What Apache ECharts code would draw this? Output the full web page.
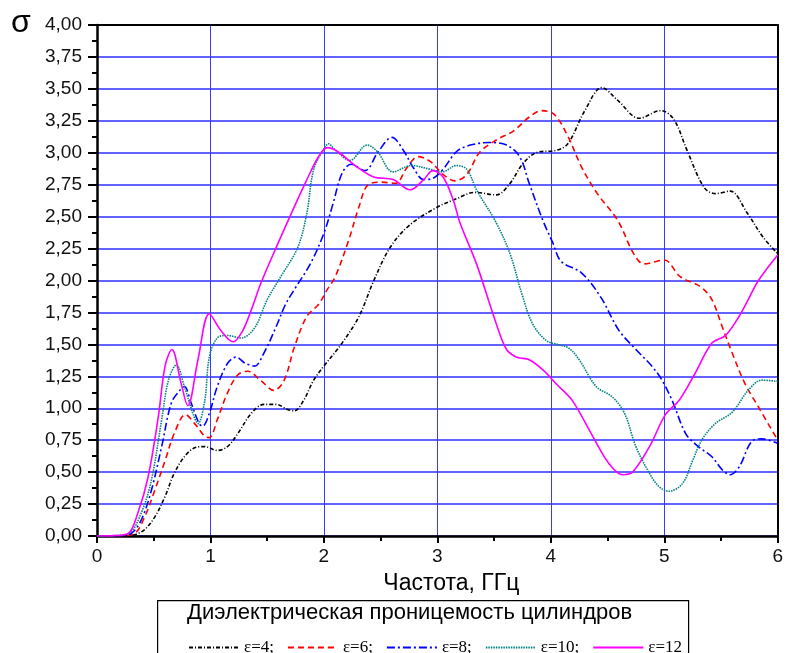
<!DOCTYPE html>
<html>
<head>
<meta charset="utf-8">
<script src="https://cdn.jsdelivr.net/npm/echarts@6/dist/echarts.min.js"></script>
<style>
  html, body { margin: 0; padding: 0; background: #fff; }
  #chart { width: 786px; height: 653px; }
</style>
</head>
<body>
<div id="chart"></div>
<script>
// Frequency (GHz) and sigma for each cylinder permittivity
const e4X = [0, 0.25, 0.33, 0.42, 0.51, 0.60, 0.68, 0.77, 0.86, 0.95, 1.06, 1.15, 1.24, 1.36, 1.47, 1.58, 1.68, 1.74, 1.82, 1.91, 2.0, 2.16, 2.31, 2.44, 2.585, 2.75, 2.99, 3.17, 3.33, 3.52, 3.64, 3.75, 3.87, 4.05, 4.15, 4.30, 4.45, 4.59, 4.78, 4.97, 5.085, 5.20, 5.35, 5.45, 5.58, 5.73, 5.87, 6.0];
const e4Y = [0, 0.002, 0.01, 0.05, 0.15, 0.31, 0.49, 0.62, 0.69, 0.70, 0.67, 0.70, 0.80, 0.96, 1.03, 1.03, 0.99, 0.98, 1.06, 1.22, 1.33, 1.51, 1.72, 2.0, 2.26, 2.43, 2.57, 2.64, 2.69, 2.67, 2.76, 2.91, 3.0, 3.02, 3.07, 3.33, 3.51, 3.41, 3.27, 3.33, 3.26, 3.02, 2.73, 2.68, 2.70, 2.53, 2.34, 2.21];

const e6X = [0, 0.2, 0.33, 0.42, 0.51, 0.60, 0.68, 0.78, 0.87, 0.95, 0.99, 1.06, 1.15, 1.24, 1.33, 1.44, 1.56, 1.65, 1.74, 1.85, 1.95, 2.03, 2.10, 2.22, 2.31, 2.39, 2.51, 2.63, 2.73, 2.83, 2.94, 3.05, 3.155, 3.26, 3.37, 3.52, 3.67, 3.81, 3.92, 4.03, 4.15, 4.27, 4.41, 4.59, 4.73, 4.82, 5.0, 5.14, 5.32, 5.42, 5.51, 5.60, 5.71, 5.83, 6.0];
const e6Y = [0, 0.002, 0.02, 0.15, 0.36, 0.59, 0.80, 0.95, 0.87, 0.78, 0.77, 0.91, 1.12, 1.26, 1.29, 1.22, 1.14, 1.22, 1.48, 1.72, 1.81, 1.93, 2.03, 2.32, 2.58, 2.75, 2.77, 2.76, 2.88, 2.97, 2.93, 2.83, 2.78, 2.83, 3.0, 3.10, 3.17, 3.28, 3.33, 3.30, 3.13, 2.89, 2.68, 2.47, 2.21, 2.13, 2.16, 2.03, 1.95, 1.85, 1.64, 1.43, 1.195, 1.01, 0.75];

const e8X = [0, 0.18, 0.30, 0.39, 0.48, 0.57, 0.655, 0.73, 0.77, 0.83, 0.90, 0.93, 0.99, 1.06, 1.15, 1.225, 1.31, 1.39, 1.47, 1.58, 1.66, 1.74, 1.88, 2.0, 2.08, 2.16, 2.24, 2.36, 2.48, 2.60, 2.70, 2.79, 2.88, 2.96, 3.05, 3.17, 3.29, 3.46, 3.61, 3.725, 3.81, 3.93, 4.02, 4.09, 4.27, 4.44, 4.60, 4.75, 4.89, 4.98, 5.07, 5.19, 5.30, 5.42, 5.51, 5.58, 5.66, 5.77, 5.86, 6.0];
const e8Y = [0, 0.002, 0.02, 0.125, 0.36, 0.70, 1.04, 1.14, 1.17, 1.04, 0.88, 0.86, 0.96, 1.17, 1.35, 1.40, 1.35, 1.33, 1.43, 1.64, 1.81, 1.93, 2.13, 2.37, 2.60, 2.84, 2.91, 2.86, 3.01, 3.12, 3.02, 2.88, 2.79, 2.80, 2.87, 3.01, 3.06, 3.08, 3.06, 2.97, 2.76, 2.47, 2.29, 2.15, 2.06, 1.87, 1.61, 1.46, 1.33, 1.22, 1.06, 0.80, 0.70, 0.62, 0.52, 0.48, 0.54, 0.74, 0.76, 0.725];

const e10X = [0, 0.15, 0.28, 0.39, 0.48, 0.57, 0.63, 0.70, 0.77, 0.845, 0.89, 0.95, 0.99, 1.06, 1.15, 1.27, 1.39, 1.50, 1.62, 1.77, 1.85, 1.91, 2.0, 2.04, 2.09, 2.23, 2.38, 2.47, 2.61, 2.77, 2.94, 3.04, 3.17, 3.26, 3.345, 3.52, 3.64, 3.75, 3.84, 3.96, 4.06, 4.16, 4.25, 4.40, 4.54, 4.65, 4.75, 4.87, 4.95, 5.04, 5.16, 5.25, 5.33, 5.45, 5.60, 5.74, 5.86, 6.0];
const e10Y = [0, 0.003, 0.02, 0.18, 0.44, 0.91, 1.22, 1.34, 1.17, 0.96, 0.88, 1.06, 1.40, 1.55, 1.57, 1.55, 1.63, 1.85, 2.03, 2.26, 2.53, 2.87, 3.03, 3.07, 3.03, 2.94, 3.06, 3.01, 2.85, 2.90, 2.87, 2.85, 2.90, 2.87, 2.71, 2.45, 2.21, 1.88, 1.66, 1.53, 1.50, 1.47, 1.38, 1.17, 1.09, 0.96, 0.70, 0.49, 0.39, 0.35, 0.41, 0.59, 0.75, 0.88, 0.97, 1.14, 1.22, 1.21];

const e12X = [0, 0.15, 0.275, 0.36, 0.45, 0.54, 0.60, 0.66, 0.74, 0.80, 0.89, 0.99, 1.09, 1.20, 1.28, 1.36, 1.445, 1.60, 1.71, 1.85, 1.96, 2.03, 2.12, 2.29, 2.44, 2.61, 2.76, 2.88, 2.96, 3.05, 3.14, 3.20, 3.345, 3.52, 3.61, 3.70, 3.81, 3.93, 4.06, 4.19, 4.37, 4.51, 4.63, 4.72, 4.87, 5.01, 5.13, 5.27, 5.42, 5.54, 5.66, 5.74, 5.83, 6.0];
const e12Y = [0, 0.003, 0.02, 0.18, 0.46, 0.93, 1.33, 1.46, 1.20, 1.02, 1.38, 1.74, 1.61, 1.52, 1.60, 1.77, 1.98, 2.30, 2.52, 2.79, 2.98, 3.04, 3.01, 2.89, 2.81, 2.79, 2.71, 2.79, 2.86, 2.81, 2.63, 2.45, 2.13, 1.66, 1.46, 1.40, 1.38, 1.30, 1.18, 1.06, 0.78, 0.57, 0.48, 0.50, 0.70, 0.95, 1.06, 1.27, 1.51, 1.57, 1.72, 1.85, 2.0, 2.20];

const seriesNames = ['ε=4', 'ε=6', 'ε=8', 'ε=10', 'ε=12'];
const xTicks = [0, 1, 2, 3, 4, 5, 6];
const legendTitle = 'Диэлектрическая проницемость цилиндров';
const xTitle = 'Частота, ГГц';
const yTitle = 'σ';

const pairs = (xs, ys) => xs.map((x, i) => [x, ys[i]]);

const styles = [
  { color: '#000000', type: [4, 2, 1, 2] },
  { color: '#ff0000', type: [6, 4] },
  { color: '#0000ff', type: [8, 3, 2, 3] },
  { color: '#008080', type: [1.5, 1] },
  { color: '#ff00ff', type: 'solid' }
];
const dataSets = [pairs(e4X, e4Y), pairs(e6X, e6Y), pairs(e8X, e8Y), pairs(e10X, e10Y), pairs(e12X, e12Y)];

const labelFont = { fontFamily: 'Liberation Sans', fontSize: 19, color: '#111' };
const frameAxis = {
  show: true,
  axisLine: { show: true, onZero: false, lineStyle: { color: '#000', width: 2 } },
  axisTick: { show: false }, axisLabel: { show: false }, splitLine: { show: false }
};

const chart = echarts.init(document.getElementById('chart'), null, { renderer: 'canvas' });

chart.setOption({
  backgroundColor: '#ffffff',
  animation: false,
  grid: { left: 97, right: 5, top: 25, bottom: 117 },
  xAxis: [{
    type: 'value', min: xTicks[0], max: xTicks[xTicks.length - 1], interval: 1,
    name: xTitle, nameLocation: 'middle', nameGap: 36,
    nameTextStyle: { fontFamily: 'Liberation Sans', fontSize: 23, color: '#000', padding: [0, 0, 0, 28] },
    axisLine: { show: true, onZero: false, lineStyle: { color: '#000', width: 2.5 } },
    axisTick: { show: true, inside: false, length: 7, lineStyle: { color: '#000', width: 2 } },
    minorTick: { show: true, splitNumber: 2, length: 5, lineStyle: { color: '#000', width: 2 } },
    axisLabel: Object.assign({ margin: 11 }, labelFont),
    splitLine: { show: true, lineStyle: { color: '#3a3aff', width: 1 } }
  }, Object.assign({ type: 'value', position: 'top', min: 0, max: 6 }, frameAxis)],
  yAxis: [{
    type: 'value', min: 0, max: 4, interval: 0.25,
    axisLine: { show: true, onZero: false, lineStyle: { color: '#000', width: 2.5 } },
    axisTick: { show: true, inside: false, length: 9, lineStyle: { color: '#000', width: 2 } },
    minorTick: { show: true, splitNumber: 2, length: 5, lineStyle: { color: '#000', width: 2 } },
    axisLabel: Object.assign({ margin: 15, formatter: v => v.toFixed(2).replace('.', ',') }, labelFont),
    splitLine: { show: true, lineStyle: { color: '#6262ff', width: 2 } }
  }, Object.assign({ type: 'value', position: 'right', min: 0, max: 4 }, frameAxis)],
  legend: {
    left: 183, top: 634,
    itemWidth: 50, itemHeight: 10, itemGap: 13,
    data: seriesNames,
    itemStyle: { opacity: 0 },
    formatter: name => name === seriesNames[seriesNames.length - 1] ? name : name + ';',
    textStyle: { fontFamily: 'Liberation Serif', fontSize: 17, color: '#000' }
  },
  graphic: [
    {
      type: 'rect', left: 157, top: 600,
      shape: { width: 531, height: 80 },
      style: { fill: '#fff', stroke: '#000', lineWidth: 1.2 },
      z: -1
    },
    {
      type: 'text', left: 187, top: 602,
      style: { text: legendTitle, font: '22px "Liberation Sans"', fill: '#000' }
    },
    {
      type: 'text', left: 11, top: 7,
      style: { text: yTitle, font: '32px "Liberation Sans"', fill: '#000' }
    }
  ],
  series: dataSets.map((d, i) => ({
    name: seriesNames[i],
    type: 'line',
    data: d,
    smooth: 0.35,
    symbol: 'none',
    clip: true,
    lineStyle: { color: styles[i].color, width: 1.6, type: styles[i].type },
    itemStyle: { color: styles[i].color }
  }))
});
</script>
</body>
</html>
